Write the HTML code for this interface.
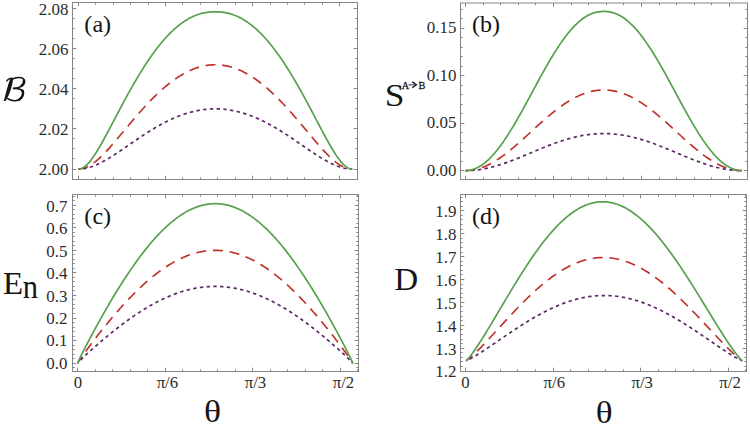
<!DOCTYPE html><html><head><meta charset="utf-8"><style>html,body{margin:0;padding:0;background:#fff;}svg{display:block}text{font-family:"Liberation Serif",serif;fill:#151515}.tl{fill:#2c2c2c}</style></head><body>
<svg width="750" height="426" viewBox="0 0 750 426">
<rect width="750" height="426" fill="#fff"/>
<clipPath id="cpa"><rect x="72.5" y="2.5" width="285.0" height="177.0"/></clipPath>
<polyline clip-path="url(#cpa)" points="78.40,169.00 79.77,168.95 81.14,168.79 82.51,168.54 83.88,168.18 85.24,167.72 86.61,167.17 87.98,166.53 89.35,165.80 90.72,164.99 92.09,164.10 93.46,163.13 94.83,162.09 96.20,160.99 97.57,159.83 98.93,158.61 100.30,157.34 101.67,156.02 103.04,154.66 104.41,153.26 105.78,151.82 107.15,150.35 108.52,148.86 109.89,147.33 111.25,145.79 112.62,144.22 113.99,142.64 115.36,141.05 116.73,139.44 118.10,137.82 119.47,136.19 120.84,134.56 122.21,132.93 123.58,131.29 124.94,129.65 126.31,128.02 127.68,126.38 129.05,124.75 130.42,123.13 131.79,121.51 133.16,119.90 134.53,118.30 135.90,116.71 137.26,115.14 138.63,113.57 140.00,112.02 141.37,110.48 142.74,108.96 144.11,107.45 145.48,105.96 146.85,104.49 148.22,103.04 149.59,101.60 150.95,100.19 152.32,98.79 153.69,97.42 155.06,96.07 156.43,94.74 157.80,93.44 159.17,92.16 160.54,90.90 161.91,89.66 163.27,88.46 164.64,87.28 166.01,86.12 167.38,84.99 168.75,83.89 170.12,82.81 171.49,81.77 172.86,80.75 174.23,79.76 175.60,78.80 176.96,77.87 178.33,76.96 179.70,76.09 181.07,75.25 182.44,74.44 183.81,73.66 185.18,72.91 186.55,72.19 187.92,71.51 189.28,70.86 190.65,70.23 192.02,69.65 193.39,69.09 194.76,68.57 196.13,68.08 197.50,67.62 198.87,67.19 200.24,66.80 201.61,66.45 202.97,66.12 204.34,65.83 205.71,65.58 207.08,65.36 208.45,65.17 209.82,65.01 211.19,64.89 212.56,64.81 213.93,64.76 215.29,64.74 216.66,64.76 218.03,64.81 219.40,64.89 220.77,65.01 222.14,65.17 223.51,65.36 224.88,65.58 226.25,65.83 227.62,66.12 228.98,66.45 230.35,66.80 231.72,67.19 233.09,67.62 234.46,68.08 235.83,68.57 237.20,69.09 238.57,69.65 239.94,70.23 241.30,70.86 242.67,71.51 244.04,72.19 245.41,72.91 246.78,73.66 248.15,74.44 249.52,75.25 250.89,76.09 252.26,76.96 253.63,77.87 254.99,78.80 256.36,79.76 257.73,80.75 259.10,81.77 260.47,82.81 261.84,83.89 263.21,84.99 264.58,86.12 265.95,87.28 267.31,88.46 268.68,89.66 270.05,90.90 271.42,92.16 272.79,93.44 274.16,94.74 275.53,96.07 276.90,97.42 278.27,98.79 279.64,100.19 281.00,101.60 282.37,103.04 283.74,104.49 285.11,105.96 286.48,107.45 287.85,108.96 289.22,110.48 290.59,112.02 291.96,113.57 293.32,115.14 294.69,116.71 296.06,118.30 297.43,119.90 298.80,121.51 300.17,123.13 301.54,124.75 302.91,126.38 304.28,128.02 305.65,129.65 307.01,131.29 308.38,132.93 309.75,134.56 311.12,136.19 312.49,137.82 313.86,139.44 315.23,141.05 316.60,142.64 317.97,144.22 319.34,145.79 320.70,147.33 322.07,148.86 323.44,150.35 324.81,151.82 326.18,153.26 327.55,154.66 328.92,156.02 330.29,157.34 331.66,158.61 333.02,159.83 334.39,160.99 335.76,162.09 337.13,163.13 338.50,164.10 339.87,164.99 341.24,165.80 342.61,166.53 343.98,167.17 345.35,167.72 346.71,168.18 348.08,168.54 349.45,168.79 350.82,168.95 352.19,169.00" fill="none" stroke="#bf322c" stroke-width="1.65" stroke-dasharray="10,6.75" stroke-dashoffset="0" stroke-linejoin="round"/>
<polyline clip-path="url(#cpa)" points="78.40,169.00 79.77,168.97 81.14,168.90 82.51,168.77 83.88,168.59 85.24,168.37 86.61,168.09 87.98,167.77 89.35,167.41 90.72,167.00 92.09,166.54 93.46,166.05 94.83,165.52 96.20,164.95 97.57,164.34 98.93,163.70 100.30,163.03 101.67,162.33 103.04,161.61 104.41,160.86 105.78,160.08 107.15,159.28 108.52,158.47 109.89,157.63 111.25,156.78 112.62,155.91 113.99,155.03 115.36,154.14 116.73,153.23 118.10,152.32 119.47,151.40 120.84,150.47 122.21,149.54 123.58,148.60 124.94,147.66 126.31,146.71 127.68,145.77 129.05,144.82 130.42,143.88 131.79,142.94 133.16,142.00 134.53,141.06 135.90,140.13 137.26,139.20 138.63,138.28 140.00,137.36 141.37,136.45 142.74,135.55 144.11,134.65 145.48,133.77 146.85,132.89 148.22,132.02 149.59,131.17 150.95,130.32 152.32,129.49 153.69,128.67 155.06,127.85 156.43,127.06 157.80,126.27 159.17,125.50 160.54,124.74 161.91,124.00 163.27,123.27 164.64,122.56 166.01,121.86 167.38,121.17 168.75,120.51 170.12,119.86 171.49,119.22 172.86,118.60 174.23,118.00 175.60,117.42 176.96,116.85 178.33,116.31 179.70,115.78 181.07,115.26 182.44,114.77 183.81,114.30 185.18,113.84 186.55,113.40 187.92,112.98 189.28,112.59 190.65,112.21 192.02,111.85 193.39,111.51 194.76,111.19 196.13,110.89 197.50,110.61 198.87,110.35 200.24,110.11 201.61,109.89 202.97,109.70 204.34,109.52 205.71,109.36 207.08,109.23 208.45,109.11 209.82,109.02 211.19,108.94 212.56,108.89 213.93,108.86 215.29,108.85 216.66,108.86 218.03,108.89 219.40,108.94 220.77,109.02 222.14,109.11 223.51,109.23 224.88,109.36 226.25,109.52 227.62,109.70 228.98,109.89 230.35,110.11 231.72,110.35 233.09,110.61 234.46,110.89 235.83,111.19 237.20,111.51 238.57,111.85 239.94,112.21 241.30,112.59 242.67,112.98 244.04,113.40 245.41,113.84 246.78,114.30 248.15,114.77 249.52,115.26 250.89,115.78 252.26,116.31 253.63,116.85 254.99,117.42 256.36,118.00 257.73,118.60 259.10,119.22 260.47,119.86 261.84,120.51 263.21,121.17 264.58,121.86 265.95,122.56 267.31,123.27 268.68,124.00 270.05,124.74 271.42,125.50 272.79,126.27 274.16,127.06 275.53,127.85 276.90,128.67 278.27,129.49 279.64,130.32 281.00,131.17 282.37,132.02 283.74,132.89 285.11,133.77 286.48,134.65 287.85,135.55 289.22,136.45 290.59,137.36 291.96,138.28 293.32,139.20 294.69,140.13 296.06,141.06 297.43,142.00 298.80,142.94 300.17,143.88 301.54,144.82 302.91,145.77 304.28,146.71 305.65,147.66 307.01,148.60 308.38,149.54 309.75,150.47 311.12,151.40 312.49,152.32 313.86,153.23 315.23,154.14 316.60,155.03 317.97,155.91 319.34,156.78 320.70,157.63 322.07,158.47 323.44,159.28 324.81,160.08 326.18,160.86 327.55,161.61 328.92,162.33 330.29,163.03 331.66,163.70 333.02,164.34 334.39,164.95 335.76,165.52 337.13,166.05 338.50,166.54 339.87,167.00 341.24,167.41 342.61,167.77 343.98,168.09 345.35,168.37 346.71,168.59 348.08,168.77 349.45,168.90 350.82,168.97 352.19,169.00" fill="none" stroke="#5e2868" stroke-width="1.7" stroke-dasharray="3.4,3.35" stroke-dashoffset="2.0" stroke-linejoin="round"/>
<polyline clip-path="url(#cpa)" points="78.40,169.00 79.77,168.88 81.14,168.54 82.51,167.96 83.88,167.17 85.24,166.18 86.61,164.99 87.98,163.62 89.35,162.09 90.72,160.41 92.09,158.59 93.46,156.66 94.83,154.62 96.20,152.48 97.57,150.27 98.93,147.98 100.30,145.63 101.67,143.23 103.04,140.78 104.41,138.29 105.78,135.77 107.15,133.23 108.52,130.67 109.89,128.09 111.25,125.49 112.62,122.90 113.99,120.29 115.36,117.69 116.73,115.09 118.10,112.49 119.47,109.91 120.84,107.33 122.21,104.77 123.58,102.22 124.94,99.68 126.31,97.17 127.68,94.67 129.05,92.20 130.42,89.75 131.79,87.32 133.16,84.92 134.53,82.55 135.90,80.20 137.26,77.89 138.63,75.60 140.00,73.34 141.37,71.12 142.74,68.93 144.11,66.78 145.48,64.65 146.85,62.57 148.22,60.52 149.59,58.51 150.95,56.53 152.32,54.60 153.69,52.70 155.06,50.84 156.43,49.03 157.80,47.25 159.17,45.51 160.54,43.82 161.91,42.17 163.27,40.56 164.64,38.99 166.01,37.46 167.38,35.98 168.75,34.55 170.12,33.15 171.49,31.80 172.86,30.50 174.23,29.24 175.60,28.02 176.96,26.85 178.33,25.73 179.70,24.65 181.07,23.61 182.44,22.62 183.81,21.68 185.18,20.78 186.55,19.92 187.92,19.11 189.28,18.35 190.65,17.62 192.02,16.95 193.39,16.32 194.76,15.73 196.13,15.18 197.50,14.68 198.87,14.22 200.24,13.81 201.61,13.43 202.97,13.10 204.34,12.81 205.71,12.56 207.08,12.34 208.45,12.17 209.82,12.03 211.19,11.93 212.56,11.86 213.93,11.82 215.29,11.81 216.66,11.82 218.03,11.86 219.40,11.93 220.77,12.03 222.14,12.17 223.51,12.34 224.88,12.56 226.25,12.81 227.62,13.10 228.98,13.43 230.35,13.81 231.72,14.22 233.09,14.68 234.46,15.18 235.83,15.73 237.20,16.32 238.57,16.95 239.94,17.62 241.30,18.35 242.67,19.11 244.04,19.92 245.41,20.78 246.78,21.68 248.15,22.62 249.52,23.61 250.89,24.65 252.26,25.73 253.63,26.85 254.99,28.02 256.36,29.24 257.73,30.50 259.10,31.80 260.47,33.15 261.84,34.55 263.21,35.98 264.58,37.46 265.95,38.99 267.31,40.56 268.68,42.17 270.05,43.82 271.42,45.51 272.79,47.25 274.16,49.03 275.53,50.84 276.90,52.70 278.27,54.60 279.64,56.53 281.00,58.51 282.37,60.52 283.74,62.57 285.11,64.65 286.48,66.78 287.85,68.93 289.22,71.12 290.59,73.34 291.96,75.60 293.32,77.89 294.69,80.20 296.06,82.55 297.43,84.92 298.80,87.32 300.17,89.75 301.54,92.20 302.91,94.67 304.28,97.17 305.65,99.68 307.01,102.22 308.38,104.77 309.75,107.33 311.12,109.91 312.49,112.49 313.86,115.09 315.23,117.69 316.60,120.29 317.97,122.90 319.34,125.49 320.70,128.09 322.07,130.67 323.44,133.23 324.81,135.77 326.18,138.29 327.55,140.78 328.92,143.23 330.29,145.63 331.66,147.98 333.02,150.27 334.39,152.48 335.76,154.62 337.13,156.66 338.50,158.59 339.87,160.41 341.24,162.09 342.61,163.62 343.98,164.99 345.35,166.18 346.71,167.17 348.08,167.96 349.45,168.54 350.82,168.88 352.19,169.00" fill="none" stroke="#58a04e" stroke-width="1.7" stroke-linejoin="round"/>
<rect x="72.5" y="2.5" width="285.0" height="177.0" fill="none" stroke="#868686" stroke-width="1"/>
<path d="M78.5,179.5v-3.8M78.5,2.5v3.8M95.5,179.5v-2.2M95.5,2.5v2.2M113.5,179.5v-2.2M113.5,2.5v2.2M130.5,179.5v-2.2M130.5,2.5v2.2M148.5,179.5v-2.2M148.5,2.5v2.2M165.5,179.5v-3.8M165.5,2.5v3.8M182.5,179.5v-2.2M182.5,2.5v2.2M200.5,179.5v-2.2M200.5,2.5v2.2M217.5,179.5v-2.2M217.5,2.5v2.2M235.5,179.5v-2.2M235.5,2.5v2.2M252.5,179.5v-3.8M252.5,2.5v3.8M270.5,179.5v-2.2M270.5,2.5v2.2M287.5,179.5v-2.2M287.5,2.5v2.2M304.5,179.5v-2.2M304.5,2.5v2.2M322.5,179.5v-2.2M322.5,2.5v2.2M339.5,179.5v-3.8M339.5,2.5v3.8M72.5,169.5h3.8M357.5,169.5h-3.8M72.5,158.5h2.2M357.5,158.5h-2.2M72.5,148.5h2.2M357.5,148.5h-2.2M72.5,138.5h2.2M357.5,138.5h-2.2M72.5,128.5h3.8M357.5,128.5h-3.8M72.5,118.5h2.2M357.5,118.5h-2.2M72.5,108.5h2.2M357.5,108.5h-2.2M72.5,98.5h2.2M357.5,98.5h-2.2M72.5,88.5h3.8M357.5,88.5h-3.8M72.5,78.5h2.2M357.5,78.5h-2.2M72.5,68.5h2.2M357.5,68.5h-2.2M72.5,58.5h2.2M357.5,58.5h-2.2M72.5,48.5h3.8M357.5,48.5h-3.8M72.5,38.5h2.2M357.5,38.5h-2.2M72.5,28.5h2.2M357.5,28.5h-2.2M72.5,18.5h2.2M357.5,18.5h-2.2M72.5,8.5h3.8M357.5,8.5h-3.8" stroke="#868686" stroke-width="1" fill="none"/>
<text transform="translate(68.4,174.8) scale(1.04,1)" font-size="16.3" text-anchor="end" class="tl">2.00</text>
<text transform="translate(68.4,134.8) scale(1.04,1)" font-size="16.3" text-anchor="end" class="tl">2.02</text>
<text transform="translate(68.4,94.9) scale(1.04,1)" font-size="16.3" text-anchor="end" class="tl">2.04</text>
<text transform="translate(68.4,54.9) scale(1.04,1)" font-size="16.3" text-anchor="end" class="tl">2.06</text>
<text transform="translate(68.4,15.0) scale(1.04,1)" font-size="16.3" text-anchor="end" class="tl">2.08</text>
<clipPath id="cpb"><rect x="460.5" y="3.0" width="287.0" height="176.5"/></clipPath>
<polyline clip-path="url(#cpb)" points="465.60,170.60 466.98,170.58 468.36,170.51 469.74,170.40 471.13,170.25 472.51,170.05 473.89,169.81 475.27,169.53 476.65,169.21 478.03,168.84 479.42,168.43 480.80,167.98 482.18,167.49 483.56,166.96 484.94,166.40 486.32,165.79 487.70,165.14 489.09,164.46 490.47,163.75 491.85,162.99 493.23,162.21 494.61,161.39 495.99,160.54 497.37,159.65 498.76,158.74 500.14,157.80 501.52,156.83 502.90,155.83 504.28,154.81 505.66,153.77 507.05,152.70 508.43,151.61 509.81,150.50 511.19,149.36 512.57,148.22 513.95,147.05 515.33,145.87 516.72,144.67 518.10,143.46 519.48,142.24 520.86,141.01 522.24,139.77 523.62,138.53 525.01,137.27 526.39,136.01 527.77,134.75 529.15,133.49 530.53,132.22 531.91,130.95 533.29,129.69 534.68,128.42 536.06,127.16 537.44,125.91 538.82,124.66 540.20,123.42 541.58,122.18 542.96,120.96 544.35,119.75 545.73,118.54 547.11,117.36 548.49,116.18 549.87,115.02 551.25,113.88 552.64,112.75 554.02,111.64 555.40,110.55 556.78,109.48 558.16,108.43 559.54,107.40 560.92,106.40 562.31,105.41 563.69,104.46 565.07,103.52 566.45,102.62 567.83,101.73 569.21,100.88 570.60,100.06 571.98,99.26 573.36,98.49 574.74,97.75 576.12,97.04 577.50,96.37 578.88,95.72 580.27,95.11 581.65,94.53 583.03,93.98 584.41,93.46 585.79,92.98 587.17,92.54 588.55,92.12 589.94,91.75 591.32,91.40 592.70,91.10 594.08,90.83 595.46,90.59 596.84,90.39 598.23,90.23 599.61,90.10 600.99,90.01 602.37,89.95 603.75,89.93 605.13,89.95 606.51,90.01 607.90,90.10 609.28,90.23 610.66,90.39 612.04,90.59 613.42,90.83 614.80,91.10 616.19,91.40 617.57,91.75 618.95,92.12 620.33,92.54 621.71,92.98 623.09,93.46 624.47,93.98 625.86,94.53 627.24,95.11 628.62,95.72 630.00,96.37 631.38,97.04 632.76,97.75 634.14,98.49 635.53,99.26 636.91,100.06 638.29,100.88 639.67,101.73 641.05,102.62 642.43,103.52 643.82,104.46 645.20,105.41 646.58,106.40 647.96,107.40 649.34,108.43 650.72,109.48 652.10,110.55 653.49,111.64 654.87,112.75 656.25,113.88 657.63,115.02 659.01,116.18 660.39,117.36 661.78,118.54 663.16,119.75 664.54,120.96 665.92,122.18 667.30,123.42 668.68,124.66 670.06,125.91 671.45,127.16 672.83,128.42 674.21,129.69 675.59,130.95 676.97,132.22 678.35,133.49 679.73,134.75 681.12,136.01 682.50,137.27 683.88,138.53 685.26,139.77 686.64,141.01 688.02,142.24 689.41,143.46 690.79,144.67 692.17,145.87 693.55,147.05 694.93,148.22 696.31,149.36 697.69,150.50 699.08,151.61 700.46,152.70 701.84,153.77 703.22,154.81 704.60,155.83 705.98,156.83 707.37,157.80 708.75,158.74 710.13,159.65 711.51,160.54 712.89,161.39 714.27,162.21 715.65,162.99 717.04,163.75 718.42,164.46 719.80,165.14 721.18,165.79 722.56,166.40 723.94,166.96 725.32,167.49 726.71,167.98 728.09,168.43 729.47,168.84 730.85,169.21 732.23,169.53 733.61,169.81 735.00,170.05 736.38,170.25 737.76,170.40 739.14,170.51 740.52,170.58 741.90,170.60" fill="none" stroke="#bf322c" stroke-width="1.65" stroke-dasharray="10,6.75" stroke-dashoffset="0" stroke-linejoin="round"/>
<polyline clip-path="url(#cpb)" points="465.60,170.60 466.98,170.59 468.36,170.56 469.74,170.51 471.13,170.44 472.51,170.35 473.89,170.24 475.27,170.11 476.65,169.96 478.03,169.79 479.42,169.61 480.80,169.40 482.18,169.17 483.56,168.93 484.94,168.67 486.32,168.39 487.70,168.10 489.09,167.78 490.47,167.46 491.85,167.11 493.23,166.75 494.61,166.37 495.99,165.98 497.37,165.58 498.76,165.16 500.14,164.73 501.52,164.28 502.90,163.83 504.28,163.36 505.66,162.88 507.05,162.39 508.43,161.89 509.81,161.38 511.19,160.86 512.57,160.33 513.95,159.79 515.33,159.25 516.72,158.70 518.10,158.15 519.48,157.59 520.86,157.02 522.24,156.46 523.62,155.88 525.01,155.31 526.39,154.73 527.77,154.15 529.15,153.57 530.53,152.99 531.91,152.41 533.29,151.83 534.68,151.25 536.06,150.67 537.44,150.09 538.82,149.52 540.20,148.95 541.58,148.39 542.96,147.82 544.35,147.27 545.73,146.72 547.11,146.17 548.49,145.63 549.87,145.10 551.25,144.57 552.64,144.06 554.02,143.55 555.40,143.05 556.78,142.56 558.16,142.07 559.54,141.60 560.92,141.14 562.31,140.69 563.69,140.25 565.07,139.82 566.45,139.41 567.83,139.00 569.21,138.61 570.60,138.23 571.98,137.87 573.36,137.51 574.74,137.18 576.12,136.85 577.50,136.54 578.88,136.24 580.27,135.96 581.65,135.70 583.03,135.44 584.41,135.21 585.79,134.99 587.17,134.78 588.55,134.59 589.94,134.42 591.32,134.26 592.70,134.12 594.08,134.00 595.46,133.89 596.84,133.80 598.23,133.72 599.61,133.66 600.99,133.62 602.37,133.60 603.75,133.59 605.13,133.60 606.51,133.62 607.90,133.66 609.28,133.72 610.66,133.80 612.04,133.89 613.42,134.00 614.80,134.12 616.19,134.26 617.57,134.42 618.95,134.59 620.33,134.78 621.71,134.99 623.09,135.21 624.47,135.44 625.86,135.70 627.24,135.96 628.62,136.24 630.00,136.54 631.38,136.85 632.76,137.18 634.14,137.51 635.53,137.87 636.91,138.23 638.29,138.61 639.67,139.00 641.05,139.41 642.43,139.82 643.82,140.25 645.20,140.69 646.58,141.14 647.96,141.60 649.34,142.07 650.72,142.56 652.10,143.05 653.49,143.55 654.87,144.06 656.25,144.57 657.63,145.10 659.01,145.63 660.39,146.17 661.78,146.72 663.16,147.27 664.54,147.82 665.92,148.39 667.30,148.95 668.68,149.52 670.06,150.09 671.45,150.67 672.83,151.25 674.21,151.83 675.59,152.41 676.97,152.99 678.35,153.57 679.73,154.15 681.12,154.73 682.50,155.31 683.88,155.88 685.26,156.46 686.64,157.02 688.02,157.59 689.41,158.15 690.79,158.70 692.17,159.25 693.55,159.79 694.93,160.33 696.31,160.86 697.69,161.38 699.08,161.89 700.46,162.39 701.84,162.88 703.22,163.36 704.60,163.83 705.98,164.28 707.37,164.73 708.75,165.16 710.13,165.58 711.51,165.98 712.89,166.37 714.27,166.75 715.65,167.11 717.04,167.46 718.42,167.78 719.80,168.10 721.18,168.39 722.56,168.67 723.94,168.93 725.32,169.17 726.71,169.40 728.09,169.61 729.47,169.79 730.85,169.96 732.23,170.11 733.61,170.24 735.00,170.35 736.38,170.44 737.76,170.51 739.14,170.56 740.52,170.59 741.90,170.60" fill="none" stroke="#5e2868" stroke-width="1.7" stroke-dasharray="3.4,3.35" stroke-dashoffset="1.2" stroke-linejoin="round"/>
<polyline clip-path="url(#cpb)" points="465.60,170.60 466.98,170.56 468.36,170.44 469.74,170.25 471.13,169.97 472.51,169.61 473.89,169.16 475.27,168.64 476.65,168.04 478.03,167.35 479.42,166.59 480.80,165.74 482.18,164.82 483.56,163.82 484.94,162.75 486.32,161.59 487.70,160.37 489.09,159.07 490.47,157.70 491.85,156.25 493.23,154.74 494.61,153.17 495.99,151.52 497.37,149.82 498.76,148.05 500.14,146.22 501.52,144.33 502.90,142.39 504.28,140.39 505.66,138.34 507.05,136.24 508.43,134.09 509.81,131.90 511.19,129.66 512.57,127.39 513.95,125.08 515.33,122.73 516.72,120.35 518.10,117.94 519.48,115.50 520.86,113.03 522.24,110.55 523.62,108.04 525.01,105.52 526.39,102.98 527.77,100.44 529.15,97.88 530.53,95.32 531.91,92.75 533.29,90.19 534.68,87.62 536.06,85.07 537.44,82.51 538.82,79.97 540.20,77.45 541.58,74.94 542.96,72.45 544.35,69.97 545.73,67.53 547.11,65.11 548.49,62.71 549.87,60.35 551.25,58.03 552.64,55.74 554.02,53.48 555.40,51.27 556.78,49.10 558.16,46.98 559.54,44.90 560.92,42.88 562.31,40.90 563.69,38.98 565.07,37.11 566.45,35.30 567.83,33.55 569.21,31.86 570.60,30.22 571.98,28.66 573.36,27.15 574.74,25.71 576.12,24.34 577.50,23.04 578.88,21.80 580.27,20.63 581.65,19.53 583.03,18.51 584.41,17.55 585.79,16.66 587.17,15.85 588.55,15.11 589.94,14.44 591.32,13.84 592.70,13.31 594.08,12.84 595.46,12.45 596.84,12.13 598.23,11.87 599.61,11.68 600.99,11.55 602.37,11.47 603.75,11.45 605.13,11.47 606.51,11.55 607.90,11.68 609.28,11.87 610.66,12.13 612.04,12.45 613.42,12.84 614.80,13.31 616.19,13.84 617.57,14.44 618.95,15.11 620.33,15.85 621.71,16.66 623.09,17.55 624.47,18.51 625.86,19.53 627.24,20.63 628.62,21.80 630.00,23.04 631.38,24.34 632.76,25.71 634.14,27.15 635.53,28.66 636.91,30.22 638.29,31.86 639.67,33.55 641.05,35.30 642.43,37.11 643.82,38.98 645.20,40.90 646.58,42.88 647.96,44.90 649.34,46.98 650.72,49.10 652.10,51.27 653.49,53.48 654.87,55.74 656.25,58.03 657.63,60.35 659.01,62.71 660.39,65.11 661.78,67.53 663.16,69.97 664.54,72.45 665.92,74.94 667.30,77.45 668.68,79.97 670.06,82.51 671.45,85.07 672.83,87.62 674.21,90.19 675.59,92.75 676.97,95.32 678.35,97.88 679.73,100.44 681.12,102.98 682.50,105.52 683.88,108.04 685.26,110.55 686.64,113.03 688.02,115.50 689.41,117.94 690.79,120.35 692.17,122.73 693.55,125.08 694.93,127.39 696.31,129.66 697.69,131.90 699.08,134.09 700.46,136.24 701.84,138.34 703.22,140.39 704.60,142.39 705.98,144.33 707.37,146.22 708.75,148.05 710.13,149.82 711.51,151.52 712.89,153.17 714.27,154.74 715.65,156.25 717.04,157.70 718.42,159.07 719.80,160.37 721.18,161.59 722.56,162.75 723.94,163.82 725.32,164.82 726.71,165.74 728.09,166.59 729.47,167.35 730.85,168.04 732.23,168.64 733.61,169.16 735.00,169.61 736.38,169.97 737.76,170.25 739.14,170.44 740.52,170.56 741.90,170.60" fill="none" stroke="#58a04e" stroke-width="1.7" stroke-linejoin="round"/>
<rect x="460.5" y="3.0" width="287.0" height="176.5" fill="none" stroke="#868686" stroke-width="1"/>
<path d="M465.5,179.5v-3.8M465.5,3.0v3.8M483.5,179.5v-2.2M483.5,3.0v2.2M500.5,179.5v-2.2M500.5,3.0v2.2M518.5,179.5v-2.2M518.5,3.0v2.2M535.5,179.5v-2.2M535.5,3.0v2.2M553.5,179.5v-3.8M553.5,3.0v3.8M571.5,179.5v-2.2M571.5,3.0v2.2M588.5,179.5v-2.2M588.5,3.0v2.2M606.5,179.5v-2.2M606.5,3.0v2.2M623.5,179.5v-2.2M623.5,3.0v2.2M641.5,179.5v-3.8M641.5,3.0v3.8M659.5,179.5v-2.2M659.5,3.0v2.2M676.5,179.5v-2.2M676.5,3.0v2.2M694.5,179.5v-2.2M694.5,3.0v2.2M711.5,179.5v-2.2M711.5,3.0v2.2M729.5,179.5v-3.8M729.5,3.0v3.8M460.5,170.5h3.8M747.5,170.5h-3.8M460.5,161.5h2.2M747.5,161.5h-2.2M460.5,151.5h2.2M747.5,151.5h-2.2M460.5,142.5h2.2M747.5,142.5h-2.2M460.5,132.5h2.2M747.5,132.5h-2.2M460.5,123.5h3.8M747.5,123.5h-3.8M460.5,113.5h2.2M747.5,113.5h-2.2M460.5,104.5h2.2M747.5,104.5h-2.2M460.5,94.5h2.2M747.5,94.5h-2.2M460.5,85.5h2.2M747.5,85.5h-2.2M460.5,75.5h3.8M747.5,75.5h-3.8M460.5,66.5h2.2M747.5,66.5h-2.2M460.5,56.5h2.2M747.5,56.5h-2.2M460.5,47.5h2.2M747.5,47.5h-2.2M460.5,37.5h2.2M747.5,37.5h-2.2M460.5,28.5h3.8M747.5,28.5h-3.8M460.5,18.5h2.2M747.5,18.5h-2.2M460.5,9.5h2.2M747.5,9.5h-2.2" stroke="#868686" stroke-width="1" fill="none"/>
<text transform="translate(456.4,175.6) scale(1.04,1)" font-size="16.3" text-anchor="end" class="tl">0.00</text>
<text transform="translate(456.4,128.1) scale(1.04,1)" font-size="16.3" text-anchor="end" class="tl">0.05</text>
<text transform="translate(456.4,80.7) scale(1.04,1)" font-size="16.3" text-anchor="end" class="tl">0.10</text>
<text transform="translate(456.4,33.2) scale(1.04,1)" font-size="16.3" text-anchor="end" class="tl">0.15</text>
<clipPath id="cpc"><rect x="72.5" y="194.5" width="286.0" height="177.0"/></clipPath>
<polyline clip-path="url(#cpc)" points="77.60,363.10 78.98,360.92 80.35,358.89 81.73,356.91 83.10,354.97 84.48,353.05 85.86,351.16 87.23,349.28 88.61,347.42 89.98,345.58 91.36,343.75 92.74,341.93 94.11,340.13 95.49,338.34 96.86,336.56 98.24,334.79 99.62,333.04 100.99,331.30 102.37,329.57 103.74,327.85 105.12,326.15 106.50,324.46 107.87,322.78 109.25,321.12 110.62,319.47 112.00,317.83 113.38,316.21 114.75,314.60 116.13,313.00 117.50,311.42 118.88,309.85 120.26,308.30 121.63,306.76 123.01,305.24 124.38,303.73 125.76,302.24 127.14,300.77 128.51,299.31 129.89,297.87 131.26,296.45 132.64,295.04 134.02,293.65 135.39,292.28 136.77,290.93 138.14,289.59 139.52,288.28 140.90,286.98 142.27,285.70 143.65,284.44 145.02,283.20 146.40,281.98 147.78,280.78 149.15,279.60 150.53,278.44 151.90,277.30 153.28,276.18 154.66,275.08 156.03,274.01 157.41,272.95 158.79,271.92 160.16,270.91 161.54,269.92 162.91,268.96 164.29,268.01 165.67,267.09 167.04,266.20 168.42,265.32 169.79,264.47 171.17,263.64 172.55,262.84 173.92,262.06 175.30,261.30 176.67,260.57 178.05,259.86 179.43,259.18 180.80,258.52 182.18,257.89 183.55,257.28 184.93,256.69 186.31,256.13 187.68,255.60 189.06,255.09 190.43,254.61 191.81,254.15 193.19,253.72 194.56,253.31 195.94,252.93 197.31,252.58 198.69,252.25 200.07,251.95 201.44,251.67 202.82,251.42 204.19,251.19 205.57,251.00 206.95,250.83 208.32,250.68 209.70,250.56 211.07,250.47 212.45,250.40 213.83,250.36 215.20,250.35 216.58,250.36 217.95,250.40 219.33,250.47 220.71,250.56 222.08,250.68 223.46,250.83 224.83,251.00 226.21,251.19 227.59,251.42 228.96,251.67 230.34,251.95 231.71,252.25 233.09,252.58 234.47,252.93 235.84,253.31 237.22,253.72 238.59,254.15 239.97,254.61 241.35,255.09 242.72,255.60 244.10,256.13 245.47,256.69 246.85,257.28 248.23,257.89 249.60,258.52 250.98,259.18 252.35,259.86 253.73,260.57 255.11,261.30 256.48,262.06 257.86,262.84 259.23,263.64 260.61,264.47 261.99,265.32 263.36,266.20 264.74,267.09 266.11,268.01 267.49,268.96 268.87,269.92 270.24,270.91 271.62,271.92 272.99,272.95 274.37,274.01 275.75,275.08 277.12,276.18 278.50,277.30 279.87,278.44 281.25,279.60 282.63,280.78 284.00,281.98 285.38,283.20 286.75,284.44 288.13,285.70 289.51,286.98 290.88,288.28 292.26,289.59 293.63,290.93 295.01,292.28 296.39,293.65 297.76,295.04 299.14,296.45 300.51,297.87 301.89,299.31 303.27,300.77 304.64,302.24 306.02,303.73 307.39,305.24 308.77,306.76 310.15,308.30 311.52,309.85 312.90,311.42 314.28,313.00 315.65,314.60 317.03,316.21 318.40,317.83 319.78,319.47 321.16,321.12 322.53,322.78 323.91,324.46 325.28,326.15 326.66,327.85 328.04,329.57 329.41,331.30 330.79,333.04 332.16,334.79 333.54,336.56 334.92,338.34 336.29,340.13 337.67,341.93 339.04,343.75 340.42,345.58 341.80,347.42 343.17,349.28 344.55,351.16 345.92,353.05 347.30,354.97 348.68,356.91 350.05,358.89 351.43,360.92 352.80,363.10" fill="none" stroke="#bf322c" stroke-width="1.65" stroke-dasharray="10,6.75" stroke-dashoffset="2.5" stroke-linejoin="round"/>
<polyline clip-path="url(#cpc)" points="77.60,363.10 78.98,361.62 80.35,360.24 81.73,358.89 83.10,357.57 84.48,356.27 85.86,354.98 87.23,353.70 88.61,352.44 89.98,351.18 91.36,349.94 92.74,348.71 94.11,347.48 95.49,346.26 96.86,345.05 98.24,343.85 99.62,342.66 100.99,341.48 102.37,340.30 103.74,339.13 105.12,337.97 106.50,336.83 107.87,335.68 109.25,334.55 110.62,333.43 112.00,332.32 113.38,331.21 114.75,330.12 116.13,329.03 117.50,327.96 118.88,326.89 120.26,325.84 121.63,324.79 123.01,323.76 124.38,322.73 125.76,321.72 127.14,320.72 128.51,319.73 129.89,318.75 131.26,317.78 132.64,316.82 134.02,315.88 135.39,314.94 136.77,314.02 138.14,313.12 139.52,312.22 140.90,311.34 142.27,310.47 143.65,309.61 145.02,308.77 146.40,307.94 147.78,307.12 149.15,306.32 150.53,305.53 151.90,304.76 153.28,304.00 154.66,303.25 156.03,302.52 157.41,301.80 158.79,301.10 160.16,300.41 161.54,299.74 162.91,299.08 164.29,298.44 165.67,297.82 167.04,297.20 168.42,296.61 169.79,296.03 171.17,295.47 172.55,294.92 173.92,294.39 175.30,293.88 176.67,293.38 178.05,292.90 179.43,292.43 180.80,291.99 182.18,291.55 183.55,291.14 184.93,290.74 186.31,290.36 187.68,290.00 189.06,289.65 190.43,289.32 191.81,289.01 193.19,288.72 194.56,288.44 195.94,288.19 197.31,287.94 198.69,287.72 200.07,287.51 201.44,287.33 202.82,287.16 204.19,287.00 205.57,286.87 206.95,286.75 208.32,286.65 209.70,286.57 211.07,286.51 212.45,286.47 213.83,286.44 215.20,286.43 216.58,286.44 217.95,286.47 219.33,286.51 220.71,286.57 222.08,286.65 223.46,286.75 224.83,286.87 226.21,287.00 227.59,287.16 228.96,287.33 230.34,287.51 231.71,287.72 233.09,287.94 234.47,288.19 235.84,288.44 237.22,288.72 238.59,289.01 239.97,289.32 241.35,289.65 242.72,290.00 244.10,290.36 245.47,290.74 246.85,291.14 248.23,291.55 249.60,291.99 250.98,292.43 252.35,292.90 253.73,293.38 255.11,293.88 256.48,294.39 257.86,294.92 259.23,295.47 260.61,296.03 261.99,296.61 263.36,297.20 264.74,297.82 266.11,298.44 267.49,299.08 268.87,299.74 270.24,300.41 271.62,301.10 272.99,301.80 274.37,302.52 275.75,303.25 277.12,304.00 278.50,304.76 279.87,305.53 281.25,306.32 282.63,307.12 284.00,307.94 285.38,308.77 286.75,309.61 288.13,310.47 289.51,311.34 290.88,312.22 292.26,313.12 293.63,314.02 295.01,314.94 296.39,315.88 297.76,316.82 299.14,317.78 300.51,318.75 301.89,319.73 303.27,320.72 304.64,321.72 306.02,322.73 307.39,323.76 308.77,324.79 310.15,325.84 311.52,326.89 312.90,327.96 314.28,329.03 315.65,330.12 317.03,331.21 318.40,332.32 319.78,333.43 321.16,334.55 322.53,335.68 323.91,336.83 325.28,337.97 326.66,339.13 328.04,340.30 329.41,341.48 330.79,342.66 332.16,343.85 333.54,345.05 334.92,346.26 336.29,347.48 337.67,348.71 339.04,349.94 340.42,351.18 341.80,352.44 343.17,353.70 344.55,354.98 345.92,356.27 347.30,357.57 348.68,358.89 350.05,360.24 351.43,361.62 352.80,363.10" fill="none" stroke="#5e2868" stroke-width="1.7" stroke-dasharray="3.4,3.35" stroke-dashoffset="2.5" stroke-linejoin="round"/>
<polyline clip-path="url(#cpc)" points="77.60,363.10 78.98,360.02 80.35,357.15 81.73,354.35 83.10,351.60 84.48,348.89 85.86,346.21 87.23,343.56 88.61,340.93 89.98,338.32 91.36,335.74 92.74,333.17 94.11,330.62 95.49,328.08 96.86,325.57 98.24,323.07 99.62,320.59 100.99,318.13 102.37,315.69 103.74,313.26 105.12,310.85 106.50,308.46 107.87,306.09 109.25,303.74 110.62,301.40 112.00,299.09 113.38,296.79 114.75,294.51 116.13,292.26 117.50,290.02 118.88,287.81 120.26,285.61 121.63,283.44 123.01,281.29 124.38,279.16 125.76,277.05 127.14,274.97 128.51,272.91 129.89,270.87 131.26,268.86 132.64,266.87 134.02,264.90 135.39,262.96 136.77,261.05 138.14,259.16 139.52,257.30 140.90,255.47 142.27,253.66 143.65,251.88 145.02,250.12 146.40,248.40 147.78,246.70 149.15,245.03 150.53,243.39 151.90,241.78 153.28,240.20 154.66,238.65 156.03,237.13 157.41,235.63 158.79,234.17 160.16,232.75 161.54,231.35 162.91,229.98 164.29,228.65 165.67,227.35 167.04,226.08 168.42,224.84 169.79,223.64 171.17,222.47 172.55,221.33 173.92,220.23 175.30,219.16 176.67,218.12 178.05,217.12 179.43,216.15 180.80,215.22 182.18,214.33 183.55,213.47 184.93,212.64 186.31,211.85 187.68,211.09 189.06,210.37 190.43,209.69 191.81,209.04 193.19,208.43 194.56,207.86 195.94,207.32 197.31,206.82 198.69,206.36 200.07,205.93 201.44,205.54 202.82,205.18 204.19,204.87 205.57,204.59 206.95,204.34 208.32,204.14 209.70,203.97 211.07,203.84 212.45,203.75 213.83,203.69 215.20,203.67 216.58,203.69 217.95,203.75 219.33,203.84 220.71,203.97 222.08,204.14 223.46,204.34 224.83,204.59 226.21,204.87 227.59,205.18 228.96,205.54 230.34,205.93 231.71,206.36 233.09,206.82 234.47,207.32 235.84,207.86 237.22,208.43 238.59,209.04 239.97,209.69 241.35,210.37 242.72,211.09 244.10,211.85 245.47,212.64 246.85,213.47 248.23,214.33 249.60,215.22 250.98,216.15 252.35,217.12 253.73,218.12 255.11,219.16 256.48,220.23 257.86,221.33 259.23,222.47 260.61,223.64 261.99,224.84 263.36,226.08 264.74,227.35 266.11,228.65 267.49,229.98 268.87,231.35 270.24,232.75 271.62,234.17 272.99,235.63 274.37,237.13 275.75,238.65 277.12,240.20 278.50,241.78 279.87,243.39 281.25,245.03 282.63,246.70 284.00,248.40 285.38,250.12 286.75,251.88 288.13,253.66 289.51,255.47 290.88,257.30 292.26,259.16 293.63,261.05 295.01,262.96 296.39,264.90 297.76,266.87 299.14,268.86 300.51,270.87 301.89,272.91 303.27,274.97 304.64,277.05 306.02,279.16 307.39,281.29 308.77,283.44 310.15,285.61 311.52,287.81 312.90,290.02 314.28,292.26 315.65,294.51 317.03,296.79 318.40,299.09 319.78,301.40 321.16,303.74 322.53,306.09 323.91,308.46 325.28,310.85 326.66,313.26 328.04,315.69 329.41,318.13 330.79,320.59 332.16,323.07 333.54,325.57 334.92,328.08 336.29,330.62 337.67,333.17 339.04,335.74 340.42,338.32 341.80,340.93 343.17,343.56 344.55,346.21 345.92,348.89 347.30,351.60 348.68,354.35 350.05,357.15 351.43,360.02 352.80,363.10" fill="none" stroke="#58a04e" stroke-width="1.7" stroke-linejoin="round"/>
<rect x="72.5" y="194.5" width="286.0" height="177.0" fill="none" stroke="#868686" stroke-width="1"/>
<path d="M77.5,371.5v-3.8M77.5,194.5v3.8M95.5,371.5v-2.2M95.5,194.5v2.2M112.5,371.5v-2.2M112.5,194.5v2.2M130.5,371.5v-2.2M130.5,194.5v2.2M147.5,371.5v-2.2M147.5,194.5v2.2M165.5,371.5v-3.8M165.5,194.5v3.8M182.5,371.5v-2.2M182.5,194.5v2.2M200.5,371.5v-2.2M200.5,194.5v2.2M217.5,371.5v-2.2M217.5,194.5v2.2M235.5,371.5v-2.2M235.5,194.5v2.2M252.5,371.5v-3.8M252.5,194.5v3.8M270.5,371.5v-2.2M270.5,194.5v2.2M287.5,371.5v-2.2M287.5,194.5v2.2M305.5,371.5v-2.2M305.5,194.5v2.2M322.5,371.5v-2.2M322.5,194.5v2.2M340.5,371.5v-3.8M340.5,194.5v3.8M357.5,371.5v-2.2M357.5,194.5v2.2M72.5,367.5h2.2M358.5,367.5h-2.2M72.5,363.5h3.8M358.5,363.5h-3.8M72.5,358.5h2.2M358.5,358.5h-2.2M72.5,354.5h2.2M358.5,354.5h-2.2M72.5,349.5h2.2M358.5,349.5h-2.2M72.5,345.5h2.2M358.5,345.5h-2.2M72.5,340.5h3.8M358.5,340.5h-3.8M72.5,336.5h2.2M358.5,336.5h-2.2M72.5,331.5h2.2M358.5,331.5h-2.2M72.5,327.5h2.2M358.5,327.5h-2.2M72.5,322.5h2.2M358.5,322.5h-2.2M72.5,318.5h3.8M358.5,318.5h-3.8M72.5,313.5h2.2M358.5,313.5h-2.2M72.5,308.5h2.2M358.5,308.5h-2.2M72.5,304.5h2.2M358.5,304.5h-2.2M72.5,299.5h2.2M358.5,299.5h-2.2M72.5,295.5h3.8M358.5,295.5h-3.8M72.5,290.5h2.2M358.5,290.5h-2.2M72.5,286.5h2.2M358.5,286.5h-2.2M72.5,281.5h2.2M358.5,281.5h-2.2M72.5,277.5h2.2M358.5,277.5h-2.2M72.5,272.5h3.8M358.5,272.5h-3.8M72.5,268.5h2.2M358.5,268.5h-2.2M72.5,263.5h2.2M358.5,263.5h-2.2M72.5,259.5h2.2M358.5,259.5h-2.2M72.5,254.5h2.2M358.5,254.5h-2.2M72.5,250.5h3.8M358.5,250.5h-3.8M72.5,245.5h2.2M358.5,245.5h-2.2M72.5,241.5h2.2M358.5,241.5h-2.2M72.5,236.5h2.2M358.5,236.5h-2.2M72.5,232.5h2.2M358.5,232.5h-2.2M72.5,227.5h3.8M358.5,227.5h-3.8M72.5,223.5h2.2M358.5,223.5h-2.2M72.5,218.5h2.2M358.5,218.5h-2.2M72.5,214.5h2.2M358.5,214.5h-2.2M72.5,209.5h2.2M358.5,209.5h-2.2M72.5,205.5h3.8M358.5,205.5h-3.8M72.5,200.5h2.2M358.5,200.5h-2.2M72.5,196.5h2.2M358.5,196.5h-2.2" stroke="#868686" stroke-width="1" fill="none"/>
<text transform="translate(67.4,368.9) scale(1.04,1)" font-size="16.3" text-anchor="end" class="tl">0.0</text>
<text transform="translate(67.4,346.4) scale(1.04,1)" font-size="16.3" text-anchor="end" class="tl">0.1</text>
<text transform="translate(67.4,324.0) scale(1.04,1)" font-size="16.3" text-anchor="end" class="tl">0.2</text>
<text transform="translate(67.4,301.6) scale(1.04,1)" font-size="16.3" text-anchor="end" class="tl">0.3</text>
<text transform="translate(67.4,279.1) scale(1.04,1)" font-size="16.3" text-anchor="end" class="tl">0.4</text>
<text transform="translate(67.4,256.7) scale(1.04,1)" font-size="16.3" text-anchor="end" class="tl">0.5</text>
<text transform="translate(67.4,234.2) scale(1.04,1)" font-size="16.3" text-anchor="end" class="tl">0.6</text>
<text transform="translate(67.4,211.8) scale(1.04,1)" font-size="16.3" text-anchor="end" class="tl">0.7</text>
<text x="77.9" y="387.8" font-size="16.8" text-anchor="middle" class="tl">0</text>
<text x="167.4" y="387.8" font-size="16.8" text-anchor="middle" class="tl">π/6</text>
<text x="255.5" y="387.8" font-size="16.8" text-anchor="middle" class="tl">π/3</text>
<text x="343.5" y="387.8" font-size="16.8" text-anchor="middle" class="tl">π/2</text>
<clipPath id="cpd"><rect x="460.5" y="194.5" width="286.0" height="177.0"/></clipPath>
<polyline clip-path="url(#cpd)" points="466.10,360.79 467.47,359.92 468.83,358.86 470.20,357.72 471.56,356.51 472.93,355.26 474.29,353.98 475.66,352.66 477.02,351.32 478.39,349.95 479.75,348.56 481.12,347.16 482.48,345.74 483.85,344.31 485.21,342.87 486.58,341.41 487.94,339.95 489.31,338.48 490.67,337.00 492.04,335.52 493.41,334.03 494.77,332.55 496.14,331.05 497.50,329.56 498.87,328.07 500.24,326.58 501.60,325.08 502.97,323.59 504.33,322.11 505.70,320.62 507.07,319.14 508.43,317.67 509.80,316.20 511.17,314.74 512.54,313.29 513.90,311.84 515.27,310.40 516.64,308.97 518.01,307.55 519.37,306.14 520.74,304.74 522.11,303.35 523.48,301.98 524.85,300.61 526.21,299.26 527.58,297.93 528.95,296.60 530.32,295.30 531.69,294.00 533.06,292.73 534.43,291.47 535.80,290.22 537.17,288.99 538.54,287.79 539.91,286.59 541.28,285.42 542.65,284.27 544.02,283.14 545.39,282.02 546.76,280.93 548.13,279.85 549.51,278.80 550.88,277.77 552.25,276.77 553.62,275.78 554.99,274.82 556.37,273.88 557.74,272.96 559.11,272.07 560.49,271.20 561.86,270.35 563.23,269.53 564.61,268.74 565.98,267.97 567.36,267.22 568.73,266.50 570.11,265.81 571.48,265.15 572.86,264.51 574.23,263.89 575.61,263.31 576.98,262.75 578.36,262.22 579.74,261.71 581.11,261.24 582.49,260.79 583.87,260.37 585.24,259.98 586.62,259.62 588.00,259.28 589.38,258.98 590.76,258.70 592.14,258.45 593.51,258.23 594.89,258.04 596.27,257.88 597.65,257.75 599.03,257.65 600.41,257.57 601.79,257.53 603.17,257.52 604.55,257.53 605.93,257.57 607.32,257.65 608.70,257.75 610.08,257.88 611.46,258.04 612.84,258.23 614.23,258.45 615.61,258.70 616.99,258.98 618.38,259.28 619.76,259.62 621.14,259.98 622.53,260.37 623.91,260.79 625.30,261.24 626.68,261.71 628.07,262.22 629.45,262.75 630.84,263.31 632.22,263.89 633.61,264.51 634.99,265.15 636.38,265.81 637.77,266.50 639.15,267.22 640.54,267.97 641.93,268.74 643.32,269.53 644.70,270.35 646.09,271.20 647.48,272.07 648.87,272.96 650.26,273.88 651.65,274.82 653.03,275.78 654.42,276.77 655.81,277.77 657.20,278.80 658.59,279.85 659.98,280.93 661.37,282.02 662.76,283.14 664.15,284.27 665.55,285.42 666.94,286.59 668.33,287.79 669.72,288.99 671.11,290.22 672.50,291.47 673.89,292.73 675.29,294.00 676.68,295.30 678.07,296.60 679.46,297.93 680.86,299.26 682.25,300.61 683.64,301.98 685.04,303.35 686.43,304.74 687.82,306.14 689.22,307.55 690.61,308.97 692.00,310.40 693.40,311.84 694.79,313.29 696.19,314.74 697.58,316.20 698.98,317.67 700.37,319.14 701.76,320.62 703.16,322.11 704.55,323.59 705.95,325.08 707.35,326.58 708.74,328.07 710.14,329.56 711.53,331.05 712.93,332.55 714.32,334.03 715.72,335.52 717.11,337.00 718.51,338.48 719.91,339.95 721.30,341.41 722.70,342.87 724.09,344.31 725.49,345.74 726.89,347.16 728.28,348.56 729.68,349.95 731.07,351.32 732.47,352.66 733.87,353.98 735.26,355.26 736.66,356.51 738.06,357.72 739.45,358.86 740.85,359.92 742.25,360.79" fill="none" stroke="#bf322c" stroke-width="1.65" stroke-dasharray="10,6.75" stroke-dashoffset="2.0" stroke-linejoin="round"/>
<polyline clip-path="url(#cpd)" points="466.10,360.79 467.48,360.25 468.86,359.58 470.24,358.85 471.62,358.09 473.00,357.30 474.38,356.49 475.77,355.65 477.15,354.80 478.53,353.94 479.91,353.07 481.29,352.18 482.67,351.28 484.05,350.38 485.43,349.46 486.81,348.55 488.19,347.62 489.57,346.69 490.95,345.76 492.33,344.82 493.71,343.88 495.10,342.94 496.48,342.00 497.86,341.06 499.24,340.11 500.62,339.17 502.00,338.23 503.38,337.29 504.76,336.35 506.14,335.41 507.52,334.48 508.90,333.54 510.28,332.62 511.66,331.69 513.04,330.77 514.43,329.86 515.81,328.95 517.19,328.05 518.57,327.15 519.95,326.26 521.33,325.37 522.71,324.50 524.09,323.63 525.47,322.76 526.85,321.91 528.23,321.07 529.61,320.23 530.99,319.40 532.38,318.59 533.76,317.78 535.14,316.98 536.52,316.20 537.90,315.42 539.28,314.66 540.66,313.91 542.04,313.16 543.42,312.44 544.80,311.72 546.18,311.02 547.56,310.32 548.94,309.65 550.32,308.98 551.71,308.33 553.09,307.69 554.47,307.07 555.85,306.46 557.23,305.87 558.61,305.29 559.99,304.72 561.37,304.18 562.75,303.64 564.13,303.12 565.51,302.62 566.89,302.13 568.27,301.66 569.65,301.21 571.04,300.77 572.42,300.35 573.80,299.95 575.18,299.56 576.56,299.19 577.94,298.84 579.32,298.50 580.70,298.18 582.08,297.88 583.46,297.60 584.84,297.33 586.22,297.09 587.60,296.86 588.98,296.65 590.37,296.45 591.75,296.28 593.13,296.12 594.51,295.98 595.89,295.86 597.27,295.76 598.65,295.68 600.03,295.61 601.41,295.57 602.79,295.54 604.17,295.53 605.55,295.54 606.93,295.57 608.32,295.61 609.70,295.68 611.08,295.76 612.46,295.86 613.84,295.98 615.22,296.12 616.60,296.28 617.98,296.45 619.36,296.65 620.74,296.86 622.12,297.09 623.50,297.33 624.88,297.60 626.26,297.88 627.65,298.18 629.03,298.50 630.41,298.84 631.79,299.19 633.17,299.56 634.55,299.95 635.93,300.35 637.31,300.77 638.69,301.21 640.07,301.66 641.45,302.13 642.83,302.62 644.21,303.12 645.59,303.64 646.98,304.18 648.36,304.72 649.74,305.29 651.12,305.87 652.50,306.46 653.88,307.07 655.26,307.69 656.64,308.33 658.02,308.98 659.40,309.65 660.78,310.32 662.16,311.02 663.54,311.72 664.93,312.44 666.31,313.16 667.69,313.91 669.07,314.66 670.45,315.42 671.83,316.20 673.21,316.98 674.59,317.78 675.97,318.59 677.35,319.40 678.73,320.23 680.11,321.07 681.49,321.91 682.87,322.76 684.26,323.63 685.64,324.50 687.02,325.37 688.40,326.26 689.78,327.15 691.16,328.05 692.54,328.95 693.92,329.86 695.30,330.77 696.68,331.69 698.06,332.62 699.44,333.54 700.82,334.48 702.20,335.41 703.59,336.35 704.97,337.29 706.35,338.23 707.73,339.17 709.11,340.11 710.49,341.06 711.87,342.00 713.25,342.94 714.63,343.88 716.01,344.82 717.39,345.76 718.77,346.69 720.15,347.62 721.54,348.55 722.92,349.46 724.30,350.38 725.68,351.28 727.06,352.18 728.44,353.07 729.82,353.94 731.20,354.80 732.58,355.65 733.96,356.49 735.34,357.30 736.72,358.09 738.10,358.85 739.48,359.58 740.87,360.25 742.25,360.79" fill="none" stroke="#5e2868" stroke-width="1.7" stroke-dasharray="3.4,3.35" stroke-dashoffset="2.8" stroke-linejoin="round"/>
<polyline clip-path="url(#cpd)" points="466.10,360.79 467.46,359.56 468.81,358.02 470.17,356.34 471.52,354.56 472.88,352.70 474.23,350.78 475.59,348.81 476.95,346.79 478.30,344.74 479.66,342.64 481.01,340.52 482.37,338.38 483.73,336.21 485.08,334.01 486.44,331.80 487.80,329.58 489.15,327.33 490.51,325.08 491.87,322.82 493.22,320.54 494.58,318.26 495.94,315.98 497.29,313.69 498.65,311.40 500.01,309.10 501.37,306.81 502.73,304.52 504.08,302.23 505.44,299.94 506.80,297.66 508.16,295.39 509.52,293.12 510.88,290.86 512.24,288.62 513.59,286.38 514.95,284.15 516.31,281.94 517.67,279.74 519.03,277.56 520.39,275.39 521.76,273.24 523.12,271.10 524.48,268.99 525.84,266.89 527.20,264.81 528.56,262.76 529.92,260.73 531.29,258.72 532.65,256.73 534.01,254.77 535.38,252.84 536.74,250.93 538.10,249.04 539.47,247.19 540.83,245.36 542.20,243.56 543.56,241.80 544.93,240.06 546.29,238.36 547.66,236.68 549.02,235.04 550.39,233.43 551.76,231.86 553.12,230.32 554.49,228.82 555.86,227.35 557.23,225.92 558.60,224.52 559.97,223.16 561.33,221.84 562.70,220.56 564.07,219.32 565.44,218.11 566.81,216.95 568.19,215.83 569.56,214.74 570.93,213.70 572.30,212.70 573.67,211.74 575.05,210.82 576.42,209.95 577.79,209.12 579.17,208.33 580.54,207.58 581.92,206.88 583.29,206.23 584.67,205.61 586.04,205.05 587.42,204.52 588.80,204.04 590.17,203.61 591.55,203.22 592.93,202.88 594.31,202.58 595.68,202.33 597.06,202.12 598.44,201.96 599.82,201.85 601.20,201.78 602.58,201.75 603.96,201.78 605.35,201.85 606.73,201.96 608.11,202.12 609.49,202.33 610.87,202.58 612.26,202.88 613.64,203.22 615.03,203.61 616.41,204.04 617.79,204.52 619.18,205.05 620.57,205.61 621.95,206.23 623.34,206.88 624.72,207.58 626.11,208.33 627.50,209.12 628.89,209.95 630.28,210.82 631.66,211.74 633.05,212.70 634.44,213.70 635.83,214.74 637.22,215.83 638.61,216.95 640.00,218.11 641.39,219.32 642.79,220.56 644.18,221.84 645.57,223.16 646.96,224.52 648.36,225.92 649.75,227.35 651.14,228.82 652.54,230.32 653.93,231.86 655.33,233.43 656.72,235.04 658.12,236.68 659.51,238.36 660.91,240.06 662.30,241.80 663.70,243.56 665.10,245.36 666.49,247.19 667.89,249.04 669.29,250.93 670.69,252.84 672.09,254.77 673.48,256.73 674.88,258.72 676.28,260.73 677.68,262.76 679.08,264.81 680.48,266.89 681.88,268.99 683.28,271.10 684.68,273.24 686.08,275.39 687.48,277.56 688.88,279.74 690.29,281.94 691.69,284.15 693.09,286.38 694.49,288.62 695.89,290.86 697.30,293.12 698.70,295.39 700.10,297.66 701.51,299.94 702.91,302.23 704.31,304.52 705.72,306.81 707.12,309.10 708.52,311.40 709.93,313.69 711.33,315.98 712.74,318.26 714.14,320.54 715.54,322.82 716.95,325.08 718.35,327.33 719.76,329.58 721.16,331.80 722.57,334.01 723.97,336.21 725.38,338.38 726.78,340.52 728.19,342.64 729.60,344.74 731.00,346.79 732.41,348.81 733.81,350.78 735.22,352.70 736.62,354.56 738.03,356.34 739.43,358.02 740.84,359.56 742.25,360.79" fill="none" stroke="#58a04e" stroke-width="1.7" stroke-linejoin="round"/>
<rect x="460.5" y="194.5" width="286.0" height="177.0" fill="none" stroke="#868686" stroke-width="1"/>
<path d="M465.5,371.5v-3.8M465.5,194.5v3.8M482.5,371.5v-2.2M482.5,194.5v2.2M500.5,371.5v-2.2M500.5,194.5v2.2M517.5,371.5v-2.2M517.5,194.5v2.2M535.5,371.5v-2.2M535.5,194.5v2.2M553.5,371.5v-3.8M553.5,194.5v3.8M570.5,371.5v-2.2M570.5,194.5v2.2M588.5,371.5v-2.2M588.5,194.5v2.2M605.5,371.5v-2.2M605.5,194.5v2.2M623.5,371.5v-2.2M623.5,194.5v2.2M640.5,371.5v-3.8M640.5,194.5v3.8M658.5,371.5v-2.2M658.5,194.5v2.2M675.5,371.5v-2.2M675.5,194.5v2.2M693.5,371.5v-2.2M693.5,194.5v2.2M710.5,371.5v-2.2M710.5,194.5v2.2M728.5,371.5v-3.8M728.5,194.5v3.8M745.5,371.5v-2.2M745.5,194.5v2.2M460.5,366.5h2.2M746.5,366.5h-2.2M460.5,361.5h2.2M746.5,361.5h-2.2M460.5,357.5h2.2M746.5,357.5h-2.2M460.5,352.5h2.2M746.5,352.5h-2.2M460.5,348.5h3.8M746.5,348.5h-3.8M460.5,343.5h2.2M746.5,343.5h-2.2M460.5,339.5h2.2M746.5,339.5h-2.2M460.5,334.5h2.2M746.5,334.5h-2.2M460.5,329.5h2.2M746.5,329.5h-2.2M460.5,325.5h3.8M746.5,325.5h-3.8M460.5,320.5h2.2M746.5,320.5h-2.2M460.5,316.5h2.2M746.5,316.5h-2.2M460.5,311.5h2.2M746.5,311.5h-2.2M460.5,306.5h2.2M746.5,306.5h-2.2M460.5,302.5h3.8M746.5,302.5h-3.8M460.5,297.5h2.2M746.5,297.5h-2.2M460.5,293.5h2.2M746.5,293.5h-2.2M460.5,288.5h2.2M746.5,288.5h-2.2M460.5,284.5h2.2M746.5,284.5h-2.2M460.5,279.5h3.8M746.5,279.5h-3.8M460.5,274.5h2.2M746.5,274.5h-2.2M460.5,270.5h2.2M746.5,270.5h-2.2M460.5,265.5h2.2M746.5,265.5h-2.2M460.5,261.5h2.2M746.5,261.5h-2.2M460.5,256.5h3.8M746.5,256.5h-3.8M460.5,252.5h2.2M746.5,252.5h-2.2M460.5,247.5h2.2M746.5,247.5h-2.2M460.5,242.5h2.2M746.5,242.5h-2.2M460.5,238.5h2.2M746.5,238.5h-2.2M460.5,233.5h3.8M746.5,233.5h-3.8M460.5,229.5h2.2M746.5,229.5h-2.2M460.5,224.5h2.2M746.5,224.5h-2.2M460.5,219.5h2.2M746.5,219.5h-2.2M460.5,215.5h2.2M746.5,215.5h-2.2M460.5,210.5h3.8M746.5,210.5h-3.8M460.5,206.5h2.2M746.5,206.5h-2.2M460.5,201.5h2.2M746.5,201.5h-2.2M460.5,197.5h2.2M746.5,197.5h-2.2" stroke="#868686" stroke-width="1" fill="none"/>
<text transform="translate(456.4,377.4) scale(1.04,1)" font-size="16.3" text-anchor="end" class="tl">1.2</text>
<text transform="translate(456.4,354.5) scale(1.04,1)" font-size="16.3" text-anchor="end" class="tl">1.3</text>
<text transform="translate(456.4,331.6) scale(1.04,1)" font-size="16.3" text-anchor="end" class="tl">1.4</text>
<text transform="translate(456.4,308.7) scale(1.04,1)" font-size="16.3" text-anchor="end" class="tl">1.5</text>
<text transform="translate(456.4,285.8) scale(1.04,1)" font-size="16.3" text-anchor="end" class="tl">1.6</text>
<text transform="translate(456.4,262.9) scale(1.04,1)" font-size="16.3" text-anchor="end" class="tl">1.7</text>
<text transform="translate(456.4,240.0) scale(1.04,1)" font-size="16.3" text-anchor="end" class="tl">1.8</text>
<text transform="translate(456.4,217.1) scale(1.04,1)" font-size="16.3" text-anchor="end" class="tl">1.9</text>
<text x="465.4" y="387.8" font-size="16.8" text-anchor="middle" class="tl">0</text>
<text x="554.3" y="387.8" font-size="16.8" text-anchor="middle" class="tl">π/6</text>
<text x="642.2" y="387.8" font-size="16.8" text-anchor="middle" class="tl">π/3</text>
<text x="730.1" y="387.8" font-size="16.8" text-anchor="middle" class="tl">π/2</text>
<text transform="translate(84.34,31.85) scale(1.019,1)" font-size="23.71">(a)</text>
<text transform="translate(471.94,31.73) scale(1.008,1)" font-size="23.82">(b)</text>
<text transform="translate(84.34,224.18) scale(1.005,1)" font-size="24.04">(c)</text>
<text transform="translate(472.05,224.25) scale(1.009,1)" font-size="23.71">(d)</text>
<text transform="translate(203.93,422.48) scale(1.104,1)" font-size="32.30">θ</text>
<text transform="translate(595.85,422.69) scale(1.098,1)" font-size="32.02">θ</text>
<text transform="translate(384.64,106.09) scale(1.115,1)" font-size="31.70">S</text>
<text transform="translate(2.74,293.90) scale(1.028,1)" font-size="32.53">E</text>
<text transform="translate(22.80,298.20) scale(0.934,1)" font-size="32.68">n</text>
<text transform="translate(394.25,290.04) scale(1.015,1)" font-size="32.59">D</text>
<text transform="translate(401.80,88.70) scale(0.911,1)" font-size="11.21" stroke="#151515" stroke-width="0.25">A</text>
<rect x="408.4" y="83.9" width="6.8" height="1.8" fill="#8a8a8a"/>
<path d="M412.3,81.9 L416.4,84.8 L412.3,87.8" fill="none" stroke="#151515" stroke-width="1.35" stroke-linejoin="miter"/>
<text transform="translate(418.60,88.67) scale(0.933,1)" font-size="11.10" stroke="#151515" stroke-width="0.25">B</text>
<path d="M13.2,77.7 C12.6,85 10.4,93 5.8,100.8 L3.7,101.2 C5.8,94 7.4,86 10.3,78.8 Z" fill="#151515"/>
<g fill="none" stroke="#151515" stroke-linecap="round">
<path d="M6.7,81.0 C7.9,79.1 9.9,78.1 12.2,78.1" stroke-width="1.4"/>
<path d="M11.8,79.4 C14.5,77.8 18.5,77.2 21.3,77.8 C24.3,78.5 25.2,81.0 23.6,83.6 C21.8,86.4 17.5,88.2 13.6,88.4" stroke-width="1.55"/>
<path d="M24.0,80.2 C24.5,82.4 23.2,84.6 21.4,85.9" stroke-width="2.5"/>
<path d="M13.6,88.4 C18.4,88.0 22.8,89.4 23.1,93.0 C23.4,97.2 19.6,100.7 15.2,100.8 C12.2,100.9 9.6,100.0 7.8,98.6" stroke-width="1.6"/>
<path d="M22.6,90.8 C23.6,93.5 22.6,97.2 19.6,99.3" stroke-width="2.6"/>
</g>
</svg></body></html>
